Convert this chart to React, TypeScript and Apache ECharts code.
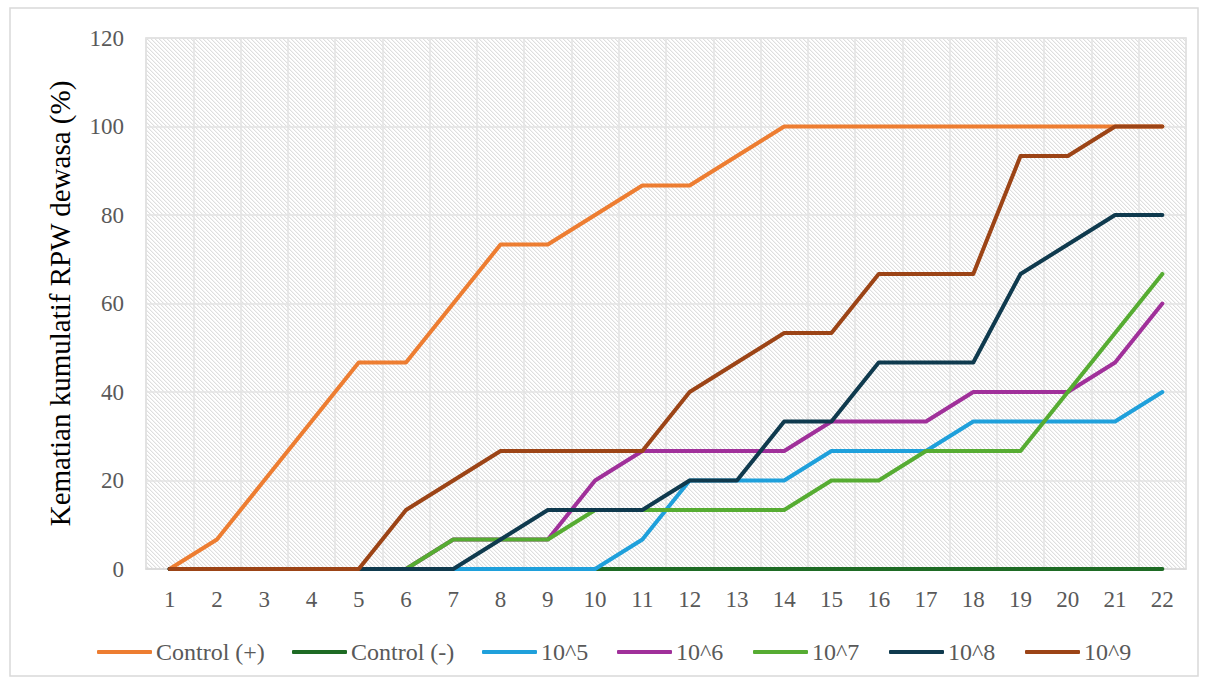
import React, { useEffect, useRef } from "react";
import * as echarts from "echarts";

const days = ["1","2","3","4","5","6","7","8","9","10","11","12","13","14","15","16","17","18","19","20","21","22"];
const yTicks = { min: 0, max: 120, interval: 20 };

const controlPos = [0, 6.67, 20, 33.33, 46.67, 46.67, 60, 73.33, 73.33, 80, 86.67, 86.67, 93.33, 100, 100, 100, 100, 100, 100, 100, 100, 100];
const controlNeg = [0, 0, 0, 0, 0, 0, 0, 0, 0, 0, 0, 0, 0, 0, 0, 0, 0, 0, 0, 0, 0, 0];
const c1e5 = [0, 0, 0, 0, 0, 0, 0, 0, 0, 0, 6.67, 20, 20, 20, 26.67, 26.67, 26.67, 33.33, 33.33, 33.33, 33.33, 40];
const c1e6 = [0, 0, 0, 0, 0, 0, 6.67, 6.67, 6.67, 20, 26.67, 26.67, 26.67, 26.67, 33.33, 33.33, 33.33, 40, 40, 40, 46.67, 60];
const c1e7 = [0, 0, 0, 0, 0, 0, 6.67, 6.67, 6.67, 13.33, 13.33, 13.33, 13.33, 13.33, 20, 20, 26.67, 26.67, 26.67, 40, 53.33, 66.67];
const c1e8 = [0, 0, 0, 0, 0, 0, 0, 6.67, 13.33, 13.33, 13.33, 20, 20, 33.33, 33.33, 46.67, 46.67, 46.67, 66.67, 73.33, 80, 80];
const c1e9 = [0, 0, 0, 0, 0, 13.33, 20, 26.67, 26.67, 26.67, 26.67, 40, 46.67, 53.33, 53.33, 66.67, 66.67, 66.67, 93.33, 93.33, 100, 100];

const seriesNames = ["Control (+)", "Control (-)", "10^5", "10^6", "10^7", "10^8", "10^9"];
const seriesData = [controlPos, controlNeg, c1e5, c1e6, c1e7, c1e8, c1e9];
const seriesColors = ["#ED7D31", "#1E6B24", "#1FA0DB", "#A0309A", "#56AC32", "#0F3A4E", "#9C4416"];
const legendLefts = [97, 292, 482, 617, 753, 889, 1025];

const yName = "Kematian kumulatif RPW dewasa (%)";
const FONT = "Liberation Serif";

function makeHatch(): HTMLCanvasElement {
  const c = document.createElement("canvas");
  const n = 4;
  c.width = n;
  c.height = n;
  const ctx = c.getContext("2d")!;
  ctx.fillStyle = "#ffffff";
  ctx.fillRect(0, 0, n, n);
  for (let i = 0; i < n; i++) {
    ctx.fillStyle = "#dedede";
    ctx.fillRect(i, i, 1, 1);
    ctx.fillStyle = "#f3f3f3";
    ctx.fillRect((i + 1) % n, i, 1, 1);
  }
  return c;
}

export default function App() {
  const ref = useRef<HTMLDivElement>(null);
  useEffect(() => {
    if (!ref.current) return;
    const chart = echarts.init(ref.current, undefined, { renderer: "svg" });
    const hatch = makeHatch();
    chart.setOption({
      animation: false,
      backgroundColor: "#ffffff",
      graphic: [
        {
          type: "rect",
          shape: { x: 10, y: 8, width: 1188, height: 668 },
          style: { fill: "none", stroke: "#d9d9d9", lineWidth: 1.5 },
          silent: true,
        },
      ],
      grid: {
        left: 146,
        right: 20,
        top: 38,
        bottom: 115,
        show: true,
        backgroundColor: { image: hatch, repeat: "repeat" },
        borderColor: "#d9d9d9",
        borderWidth: 1.5,
      },
      legend: seriesNames.map((name, i) => ({
        left: legendLefts[i],
        top: 640,
        padding: 0,
        itemWidth: 55,
        itemHeight: 4,
        icon: "roundRect",
        selectedMode: false,
        textStyle: { fontFamily: FONT, fontSize: 24, color: "#595959", padding: [0, 0, 0, -1] },
        data: [name],
      })),
      xAxis: {
        type: "category",
        data: days,
        boundaryGap: true,
        axisLine: { show: true, lineStyle: { color: "#d9d9d9", width: 1.5 } },
        axisTick: { show: false },
        splitLine: { show: true, lineStyle: { color: "#e3e3e3", width: 1.5 } },
        axisLabel: { fontFamily: FONT, fontSize: 23, color: "#595959", margin: 19, interval: 0 },
      },
      yAxis: {
        type: "value",
        min: yTicks.min,
        max: yTicks.max,
        interval: yTicks.interval,
        name: yName,
        nameLocation: "middle",
        nameGap: 72,
        nameTextStyle: { fontFamily: FONT, fontSize: 29, color: "#000000" },
        axisLine: { show: false },
        axisTick: { show: false },
        splitLine: { show: true, lineStyle: { color: "#e3e3e3", width: 1.5 } },
        axisLabel: { fontFamily: FONT, fontSize: 23, color: "#595959", margin: 22 },
      },
      series: seriesNames.map((name, i) => ({
        name,
        type: "line",
        data: seriesData[i],
        showSymbol: false,
        symbol: "none",
        lineStyle: { color: seriesColors[i], width: 4, cap: "round", join: "round" },
        itemStyle: { color: seriesColors[i] },
      })),
    });
    return () => chart.dispose();
  }, []);
  return (
    <div
      ref={ref}
      style={{ position: "fixed", left: 0, top: 0, width: 1206, height: 684 }}
    />
  );
}
